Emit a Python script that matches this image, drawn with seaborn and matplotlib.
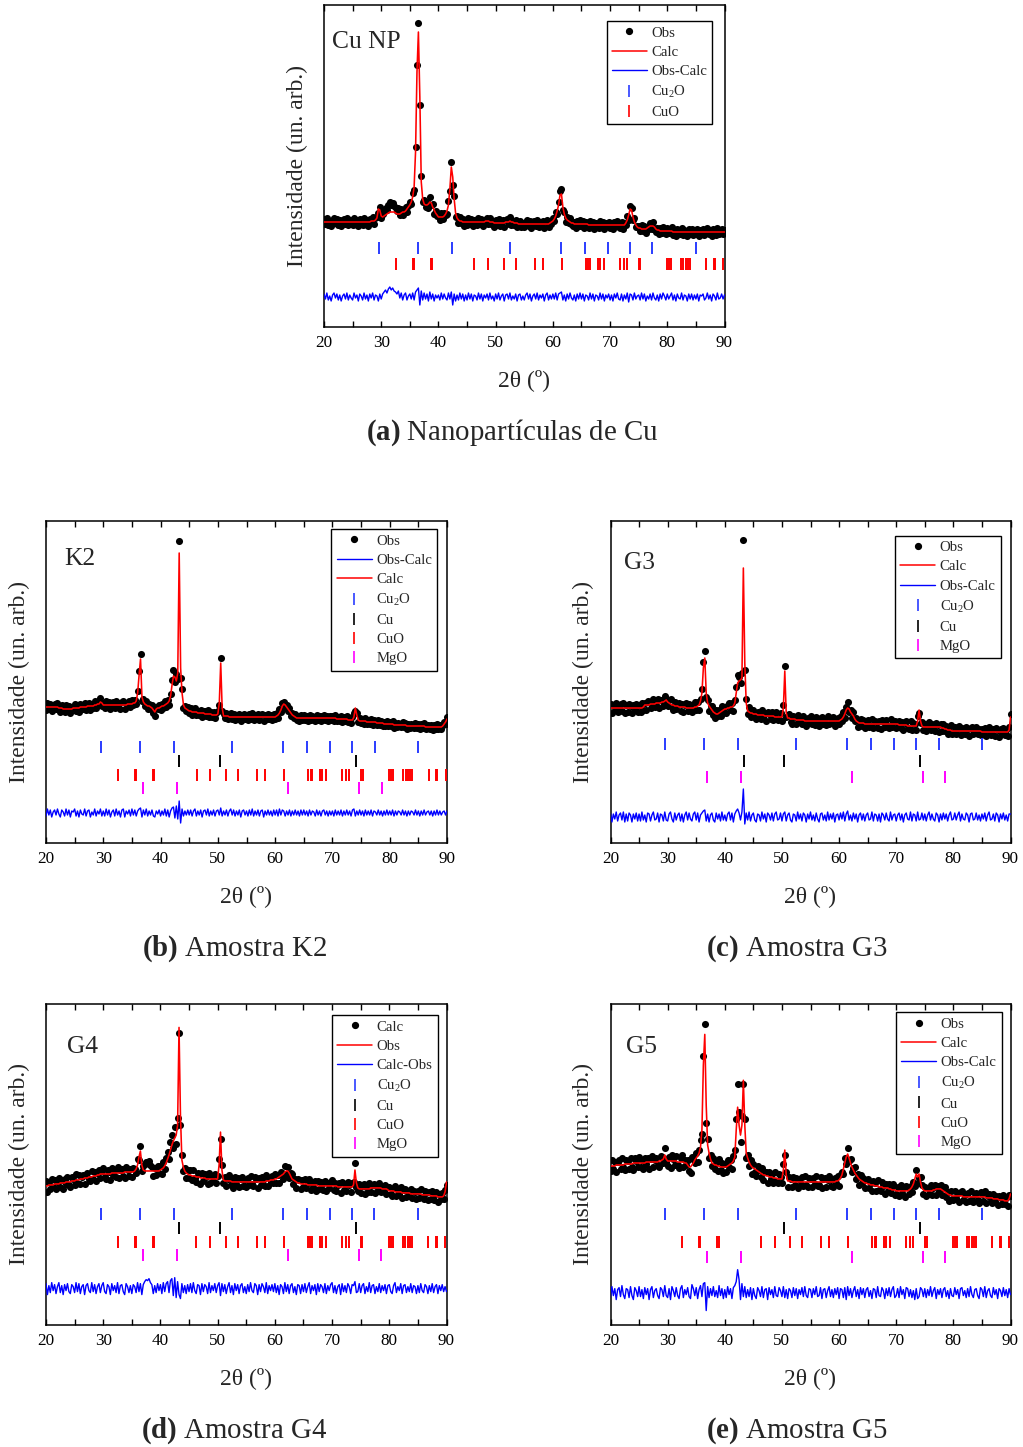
import numpy as np
import matplotlib
matplotlib.use("Agg")
import matplotlib.pyplot as plt
import seaborn as sns
from matplotlib.lines import Line2D
from matplotlib.ticker import MultipleLocator

# ------------------------------------------------------------------ data
TWO_THETA = np.arange(20.0, 90.0001, 0.25)          # 2θ grid (degrees), 281 points

# calculated profiles (arbitrary units), rows of 5 degrees
CALC_A = ([105]*20 +
          [105]*13 + [106, 106, 106, 107, 109, 118, 117] +
          [111, 110, 111, 112, 113, 114, 115, 115, 115, 115, 114, 113, 113, 113, 114, 115, 115, 116, 118, 120] +
          [122, 125, 130, 140, 175, 255, 295, 230, 145, 128, 123, 122, 122, 123, 125, 124, 120, 117, 114, 112] +
          [110, 110, 110, 110, 111, 113, 116, 122, 138, 160, 150, 128, 114, 109, 107, 106, 106, 105, 105, 105] +
          [105]*13 + [106, 106, 106, 105, 105, 105, 104] +
          [104, 104, 104, 104, 104, 104, 104, 105, 105, 105, 106, 105, 105, 104, 104, 104, 103, 103, 103, 103] +
          [103]*18 + [104, 105] +
          [106, 108, 111, 116, 122, 132, 133, 120, 113, 109, 107, 106, 105, 104, 104, 103, 103, 103, 103, 103] +
          [103]*5 + [102]*15 +
          [102]*11 + [104, 107, 112, 118, 117, 110, 105, 102, 100] +
          [99, 99, 98, 98, 98, 98, 99, 100, 101, 101, 101, 100, 98, 97, 97, 96, 96, 96, 96, 96] +
          [96]*4 + [95]*16 +
          [95]*20 + [95])

CALC_B = ([136]*9 + [135]*3 + [134]*7 + [135] +
          [135]*4 + [136]*5 + [137]*5 + [138, 138, 139, 139, 141, 140] +
          [138]*17 + [139]*3 +
          [139, 140, 140, 142, 150, 168, 184, 146, 141, 139, 138, 137, 137, 136, 135, 133, 131, 134, 135, 135] +
          [136, 137, 137, 138, 139, 140, 142, 147, 158, 167, 166, 162, 170, 290, 175, 150, 138, 135, 134, 133] +
          [132, 132, 131, 131, 131, 131, 130, 130, 130, 130, 130, 129, 129, 129, 129, 129, 128, 128, 128, 128] +
          [129, 140, 180, 135, 127, 127, 127, 127, 126] + [126]*11 +
          [126]*20 +
          [126, 127, 128, 130, 133, 137, 139, 138, 136, 134, 132, 130, 128, 127, 126, 125, 125, 125, 125, 125] +
          [125]*20 +
          [125, 125, 125, 124, 124, 124, 124, 124, 124, 124, 124, 123, 123, 123, 123, 126, 135, 128, 123, 122] +
          [122]*4 + [121]*7 + [120]*5 + [119]*4 +
          [119]*3 + [118]*9 + [117]*8 +
          [117]*5 + [116]*12 + [117, 119, 121] + [124])

CALC_C = ([135]*20 +
          [135, 135, 135, 136, 138, 138, 138, 138, 139, 139, 139, 139, 140, 140, 140, 140, 141, 141, 142, 143] +
          [141, 140, 139, 138, 138, 137, 137, 137, 136, 136, 136, 136, 136, 135, 135, 135, 135, 135, 135, 136] +
          [136, 137, 138, 142, 150, 175, 185, 150, 140, 137, 135, 133, 131, 130, 129, 129, 130, 131, 132, 133] +
          [134, 134, 135, 135, 136, 136, 137, 140, 150, 160, 162, 163, 165, 275, 180, 140, 132, 131, 130, 130] +
          [129, 129, 129, 128, 128, 128, 128, 128, 127, 127, 127, 127, 127, 127, 127, 126, 126, 126, 126, 126] +
          [126, 135, 172, 130, 125, 125, 124, 124, 124, 124, 123, 123, 123, 123, 123, 123, 122, 122, 122, 122] +
          [122]*20 +
          [122, 123, 124, 126, 129, 133, 135, 134, 131, 129, 127, 124, 122, 121, 120, 120, 120, 120, 119, 119] +
          [119]*20 +
          [119, 119, 118, 118, 118, 118, 118, 118, 117, 117, 117, 117, 117, 117, 117, 122, 133, 122, 117, 116] +
          [116]*12 + [115, 115, 114, 114, 113, 113, 113, 112] +
          [112]*20 +
          [111]*19 + [113] + [126])

CALC_D = ([139, 139, 140, 140, 140, 140, 141, 141, 141, 141, 142, 142, 142, 142, 143, 143, 143, 143, 144, 144] +
          [144, 145, 145, 145, 146, 146, 146, 147, 147, 147, 148, 148, 148, 149, 149, 149, 150, 150, 151, 151] +
          [151]*6 + [152]*9 + [153]*5 +
          [153, 153, 154, 156, 160, 168, 174, 160, 155, 154] + [154]*10 +
          [155, 156, 157, 159, 162, 166, 170, 175, 180, 184, 187, 190, 200, 298, 210, 165, 158, 154, 152, 151] +
          [150, 150, 149, 149, 149, 148, 148, 148, 147, 147, 147, 147] + [146]*8 +
          [146, 160, 193, 155, 145, 144, 144, 144, 144, 144] + [143]*10 +
          [143]*14 + [144, 144, 144, 145, 145, 145] +
          [146, 146, 147, 148, 149, 150, 151, 153, 154, 154, 152, 149, 146, 145, 144, 143, 142, 142, 141, 141] +
          [141]*3 + [140]*7 + [139]*10 +
          [139]*4 + [138]*11 + [140, 155, 142, 137, 136] +
          [136]*7 + [137]*8 + [136]*4 + [135] +
          [134]*4 + [133]*5 + [132]*6 + [131]*5 +
          [131]*3 + [130]*6 + [129]*5 + [128]*4 + [129, 133] + [143])

CALC_E = ([159]*4 + [160]*6 + [161]*6 + [162]*4 +
          [162]*5 + [163]*9 + [164, 164, 165, 166, 170, 166] +
          [164]*7 + [163]*5 + [162, 162, 160, 158, 158, 160, 162, 165] +
          [167, 169, 172, 178, 195, 260, 291, 220, 180, 172, 166, 162, 161, 160, 160, 159, 159, 158, 158, 158] +
          [158, 158, 159, 160, 161, 162, 164, 168, 195, 218, 200, 190, 200, 245, 200, 172, 167, 163, 160, 158] +
          [157, 156, 155, 154, 153, 152, 151, 150, 150, 149, 149, 148, 148, 148, 147, 147, 147, 146, 146, 146] +
          [146, 155, 175, 150, 144, 144, 144] + [143]*13 +
          [143]*18 + [144, 144] +
          [145, 147, 150, 156, 162, 168, 171, 167, 162, 158, 155, 152, 150, 148, 146, 145, 144, 143, 142, 142] +
          [141, 141, 140, 140, 140, 139, 139, 139, 138, 138, 138, 137, 137, 137, 137, 136, 136, 135, 135, 135] +
          [134]*9 + [135, 136, 138, 141, 146, 151, 148, 151, 143, 137, 135] +
          [134]*6 + [135, 135, 136, 136, 136, 136, 135, 134, 133, 132, 131, 130, 130, 129] +
          [129]*7 + [128]*13 +
          [128, 128, 128, 127, 127, 127, 127, 127, 126, 126, 126, 126, 125, 125, 125, 125, 124, 124, 124, 126] + [131])

# observed minus calculated (same grid)
DIFF_A = [3, -2, 4, -3, 1, -4, 2, 4, -1, 3, -3, 2, -4, 1, 3, -2, 4, -3, 2, -1,
          -3, 4, -1, 2, -4, 3, 1, -3, 4, -2, 2, -4, 3, -1, 4, -3, 2, 1, -4, 3,
          -2, 3, 5, 7, 4, 8, 10, 7, 9, 6, 5, 3, 6, -1, 4, -3, 2, 4, -3, 1,
          3, -2, 4, -3, 5, 7, 9, -8, 6, -3, 4, -2, 3, -4, 5, -2, 3, -4, 2, -1,
          2, -3, 4, -2, 3, -1, -3, 4, -2, 5, -8, 3, -4, 2, -3, 4, -2, 3, -4, 2,
          -3, 4, -2, 3, -4, 2, 1, -3, 4, -2, 3, -4, 2, -1, 3, -3, 4, -2, 1, -4,
          3, -2, 4, -3, 1, 3, -4, 2, 3, -2, 4, -3, 1, -2, 3, -4, 2, 3, -3, 1,
          -3, 2, 4, -2, 3, -4, 1, 3, -2, 4, -3, 2, -1, 3, -4, 2, 4, -3, 2, -2,
          3, -2, 4, -3, 3, 4, 5, -3, 2, -4, 3, -2, 4, -1, -3, 2, -4, 3, -2, 4,
          -2, 3, -4, 2, 1, -3, 4, -2, 3, -4, 2, 1, -3, 4, -2, 3, -4, 2, -1, 3,
          -3, 2, -4, 3, -1, 4, -2, -3, 3, -4, 2, -2, 4, -5, 3, 2, -3, 4, -2, 1,
          2, -3, 4, -2, 3, -4, 1, -2, 3, -3, 4, -1, -3, 2, -4, 3, -2, 4, 1, -3,
          3, -2, 1, 4, -3, 2, -4, 3, -1, -2, 4, -3, 2, 1, -4, 3, -2, 3, -3, 2,
          -2, 3, -4, 2, 1, 3, -3, -1, 4, -2, 2, -4, 3, 1, -3, 4, -2, -1, 3, -2,
          2]

DIFF_B = [-3, 4, -2, 3, -4, 1, 3, -2, 4, -1, -4, 3, 1, -3, 4, -2, 3, -4, 2, 1,
          4, -3, 2, -4, 3, -1, -2, 4, -3, 2, 3, -4, 1, -2, 4, -3, 2, -1, 4, -3,
          2, -3, 4, -2, 3, -4, 1, 3, -3, 4, -2, 2, -4, 3, 4, -4, 2, -1, 3, -3,
          4, -2, 3, -3, 2, 4, 5, -4, 3, -2, 4, -3, 2, -2, 3, -3, -4, 2, -1, 3,
          -3, 2, -2, 4, -3, 3, -4, 2, 5, 6, -5, 7, -6, 12, -10, 4, -3, 2, -2, 3,
          -2, 3, -3, 2, 4, -3, 2, -2, 3, -4, 2, 3, -2, 4, -3, 2, -2, 3, -3, 2,
          3, -2, 5, -3, 2, -2, 3, -3, 2, 4, -2, 3, -3, 2, -2, 3, -4, 2, 3, -2,
          2, -3, 3, -2, 4, -3, 2, -2, 3, -3, 2, 3, -4, 2, -2, 3, -2, 2, -3, 3,
          -2, 3, -3, 4, -2, 3, 2, -3, 2, -2, 3, -3, 2, -2, 3, -2, 2, -3, 3, -2,
          3, -2, 2, -3, 3, -2, 2, 1, -3, 3, -2, 2, -3, 2, 3, -2, 2, -3, 2, -2,
          2, -3, 3, -2, 2, -2, 3, -3, 2, -2, 3, -2, 2, -3, 3, 4, -3, 2, -2, 3,
          -2, 2, -3, 3, -2, 2, -2, 3, -3, 2, 1, -2, 3, -2, 2, -3, 2, -2, 3, -2,
          2, -2, 3, -3, 2, -2, 2, 1, -2, 3, -2, 2, -3, 2, -2, 2, 1, -2, 3, -2,
          2, -3, 2, -2, 3, -2, 1, 2, -2, 2, -3, 2, -2, 3, -2, 2, -2, 1, 2, -2,
          2]

DIFF_C = [4, -5, 3, -2, 5, -4, 2, 4, -3, 5, -5, 3, -4, 4, 2, -5, 3, -2, 4, -4,
          3, -4, 5, -3, 2, -5, 4, 3, -4, 2, 5, -3, -2, 4, -5, 3, 2, -4, 5, -3,
          -4, 3, 5, -2, -5, 4, -3, 2, 4, -4, 3, -5, 2, 5, -3, 4, -2, -4, 3, 5,
          -3, 4, -5, 2, 4, 6, 7, -4, 3, -5, 2, 4, -3, -5, 4, -2, 3, -4, 5, -3,
          2, -4, 3, 5, -3, 4, -5, 3, 6, 8, 4, -3, 5, 28, -7, 4, -3, 5, -4, 2,
          4, -3, -5, 3, 2, -4, 5, -2, 3, -5, 4, 2, -3, 4, -4, 3, 5, -3, -2, 4,
          -4, 3, 5, -4, 2, 4, -3, -5, 3, 2, -4, 5, -2, 3, -4, 4, 2, -5, 3, -2,
          5, -3, 2, -4, 4, -2, -5, 3, 4, -3, 2, -4, 5, -3, 3, -2, 4, -5, 2, 3,
          -3, 4, -2, 5, -4, 3, 6, -3, 2, -4, 4, -2, 3, -5, 2, 4, -3, 3, -4, 2,
          4, -3, -2, 5, -4, 3, 2, -4, 3, -5, 4, 2, -3, 4, -2, -4, 5, -3, 2, 3,
          -4, 2, 4, -3, 3, -5, 2, 4, -2, -3, 5, -4, 3, 2, -4, 5, -3, -2, 4, -3,
          3, -4, 2, 5, -3, 3, -2, -4, 4, 2, -5, 3, -3, 4, -2, 3, -4, 2, 5, -3,
          -2, 4, -3, 2, 5, -4, 3, -2, -3, 4, 2, -5, 3, 4, -3, -2, 4, -3, 2, -4,
          3, -2, 4, -4, 2, 5, -3, -2, 3, -4, 4, 2, -5, 3, -2, 4, -3, 2, -4, 3,
          3]

DIFF_D = [5, -6, 3, -4, 6, -2, 4, -5, 2, 6, -4, 3, -6, 4, -2, 5, -3, -5, 4, 2,
          -4, 6, -3, 5, -5, 2, 4, -6, 3, 5, -2, -4, 6, -3, 4, -5, 2, 5, -4, 3,
          6, -3, -5, 4, 2, -6, 5, -2, 3, -4, 6, -5, 3, 4, -3, -6, 5, 2, -4, 3,
          -5, 4, 2, -4, 6, -3, 5, -6, 4, 7, 9, 8, 10, 6, 4, -5, 3, -4, 5, -2,
          4, -5, 6, -3, 5, 7, -4, 8, 10, -7, 11, -9, 7, -6, -10, 5, -4, 3, -5, 4,
          -3, 5, -4, 6, -2, -5, 4, 3, -6, 5, -3, 4, 2, -5, 6, -4, 3, -2, 5, -4,
          3, 6, -7, 5, -3, 4, -5, 2, 6, -4, 3, -6, 5, -2, 4, -5, 3, 5, -4, 2,
          -5, 4, -3, 6, -2, -4, 5, 3, -6, 4, -3, 5, 2, -4, 6, -5, 3, -2, 4, -3,
          5, -4, 3, -6, 4, 2, -5, 6, -3, 4, -5, 3, 5, -4, 2, -6, 4, 3, -5, 4,
          -3, 5, -4, 2, 6, -5, 3, -2, 4, -6, 5, -3, 4, 2, -4, 5, -5, 3, -2, 4,
          6, -4, 3, -5, 2, 4, -6, 5, -3, 3, -4, 5, 2, -5, 4, 3, 7, -4, -3, 5,
          -4, 3, 5, -5, 2, -3, 6, -4, 3, 4, -5, 2, -3, 5, -4, 3, -2, 4, -5, 3,
          4, -3, -5, 3, 6, -4, 2, -2, 5, -5, 3, 4, -4, 2, -3, 5, -4, 3, 2, -5,
          3, -4, 5, -2, -4, 4, 2, -5, 3, -3, 5, -4, 2, 4, -5, 3, -2, 4, -3, 2,
          -3]

DIFF_E = [-5, 6, -3, 4, -7, 3, 5, -4, 7, -2, -6, 4, 3, -5, 6, -3, -7, 5, 2, -4,
          6, -4, 3, -6, 5, -2, 4, -7, 3, 6, -5, 2, 4, -3, -6, 5, 3, -4, 7, -3,
          -5, 4, -7, 6, 2, -4, 5, -3, -6, 4, 7, -5, 3, -2, 5, -4, -6, 8, 4, -3,
          5, -6, 3, 7, -4, 9, 10, -18, 6, -5, 4, -3, 6, -4, 2, -5, 7, -3, 4, -6,
          3, -5, 6, -2, 4, -6, 5, 7, 11, 23, 13, -7, 9, -4, 6, -5, 3, -4, 5, -7,
          4, -3, -6, 5, 2, -4, 6, -5, 3, 4, -7, 5, -2, 3, -5, 6, -3, -4, 5, 2,
          -4, 6, -5, 3, -6, 4, 2, -5, 5, -3, 4, -6, 3, -2, 5, -4, 6, -3, -5, 4,
          3, -5, 4, -2, 6, -4, -3, 5, -6, 3, 4, -5, 2, 6, -4, 3, -5, 4, -2, 5,
          -6, 4, 3, -5, 5, -7, 6, -3, 4, -5, 2, 6, -4, 3, -6, 5, -2, 4, -5, 3,
          5, -4, 2, -6, 4, 3, -5, 6, -3, -4, 5, 2, -6, 4, -3, 5, -4, 3, 6, -5,
          -3, 4, -5, 6, -2, 3, -6, 5, 4, -4, 3, -5, 2, -7, 4, -6, -4, 5, 3, -4,
          4, -5, 3, -3, 6, -4, 2, 5, -6, 3, -2, 4, -5, 3, 5, -4, 2, -6, 4, -3,
          -4, 5, -2, 3, -6, 4, 5, -3, 2, -5, 4, -4, 6, -2, -5, 3, 4, -3, -6, 5,
          3, -4, 6, -5, 2, 4, -3, -5, 5, -2, 3, -6, 4, 2, -4, 5, -3, 3, -5, 4,
          -2]

# Bragg reflection positions (2θ, degrees)
CU2O_POS = [29.6, 36.4, 42.3, 52.5, 61.4, 65.6, 69.6, 73.5, 77.4, 85.0]
CU_POS = [43.3, 50.4, 74.1]
CU_POS_G5 = [50.4, 74.1]
CUO_POS = [32.5, 35.5, 35.7, 38.7, 38.9, 46.3, 48.7, 51.4, 53.5, 56.8, 58.3, 61.6,
           65.8, 66.2, 66.5, 67.9, 68.2, 68.9, 71.7, 72.4, 72.9, 75.0, 75.3,
           79.9, 80.3, 80.6, 82.4, 82.8, 83.2, 83.6, 83.9, 86.8, 88.1, 88.3, 89.8]
MGO_POS = [36.9, 42.9, 62.3, 74.7, 78.6]

PANEL_NAMES = ["Cu NP", "K2", "G3", "G4", "G5"]
CAPTIONS = [r"$\mathbf{(a)}$ Nanopartículas de Cu", r"$\mathbf{(b)}$ Amostra K2",
            r"$\mathbf{(c)}$ Amostra G3", r"$\mathbf{(d)}$ Amostra G4",
            r"$\mathbf{(e)}$ Amostra G5"]
X_TICKS = [20, 30, 40, 50, 60, 70, 80, 90]

for arr in (CALC_A, CALC_B, CALC_C, CALC_D, CALC_E, DIFF_A, DIFF_B, DIFF_C, DIFF_D, DIFF_E):
    assert len(arr) == len(TWO_THETA), len(arr)

# ------------------------------------------------------------------ style
sns.set_theme(style="white")
plt.rcParams["font.family"] = ["Liberation Serif", "DejaVu Serif"]
plt.rcParams["mathtext.fontset"] = "custom"
plt.rcParams["mathtext.rm"] = "Liberation Serif"
plt.rcParams["mathtext.it"] = "Liberation Serif:italic"
plt.rcParams["mathtext.bf"] = "Liberation Serif:bold"

BLUE = "#0000ff"
TICKBLUE = "#2a3cff"
RED = "#ff0000"
MAG = "#ff00ff"
PHASE_COL = {"Cu2O": TICKBLUE, "Cu": "black", "CuO": RED, "MgO": MAG}
PHASE_LBL = {"Cu2O": "Cu$_2$O", "Cu": "Cu", "CuO": "CuO", "MgO": "MgO"}

W, H = 1023, 1447
fig = plt.figure(figsize=(W / 100, H / 100), dpi=100)
fig.patch.set_facecolor("white")


def rect(l, r, t, b):
    return [l / W, 1 - b / H, (r - l) / W, (b - t) / H]


panels = [
    dict(rect=rect(324, 724.5, 5, 327), calc=CALC_A, diff=DIFF_A, off=30,
         phases=[("Cu2O", CU2O_POS, 79.5), ("CuO", CUO_POS, 63.5)],
         legend=[("obs", "Obs"), ("calc", "Calc"), ("diff", "Obs-Calc"), ("Cu2O", None), ("CuO", None)],
         leg_anchor=(0.97, 0.95), name_xy=(0.02, 0.885),
         xlab=(524, 380), cap=(512, 433)),
    dict(rect=rect(46, 447, 521, 843), calc=CALC_B, diff=DIFF_B, off=30,
         phases=[("Cu2O", CU2O_POS, 96), ("Cu", CU_POS, 82), ("CuO", CUO_POS, 68), ("MgO", MGO_POS, 54.5)],
         legend=[("obs", "Obs"), ("diff", "Obs-Calc"), ("calc", "Calc"), ("Cu2O", None), ("Cu", None), ("CuO", None), ("MgO", None)],
         leg_anchor=(0.976, 0.975), name_xy=(0.045, 0.882),
         xlab=(246, 896), cap=(234.5, 949)),
    dict(rect=rect(610.5, 1010.5, 521, 843), calc=CALC_C, diff=DIFF_C, off=26,
         phases=[("Cu2O", CU2O_POS, 99), ("Cu", CU_POS, 81.5), ("MgO", MGO_POS, 65.5)],
         legend=[("obs", "Obs"), ("calc", "Calc"), ("diff", "Obs-Calc"), ("Cu2O", None), ("Cu", None), ("MgO", None)],
         leg_anchor=(0.976, 0.954), name_xy=(0.034, 0.87),
         xlab=(810, 896), cap=(797.5, 949)),
    dict(rect=rect(46, 446.5, 1003.5, 1324.5), calc=CALC_D, diff=DIFF_D, off=36,
         phases=[("Cu2O", CU2O_POS, 111), ("Cu", CU_POS, 97), ("CuO", CUO_POS, 83), ("MgO", MGO_POS, 70)],
         legend=[("obs", "Calc"), ("calc", "Obs"), ("diff", "Calc-Obs"), ("Cu2O", None), ("Cu", None), ("CuO", None), ("MgO", None)],
         leg_anchor=(0.978, 0.964), name_xy=(0.052, 0.865),
         xlab=(246, 1378), cap=(234.5, 1431)),
    dict(rect=rect(610.5, 1010.5, 1003.5, 1324.5), calc=CALC_E, diff=DIFF_E, off=32,
         phases=[("Cu2O", CU2O_POS, 111), ("Cu", CU_POS_G5, 96.6), ("CuO", CUO_POS, 82.5), ("MgO", MGO_POS, 68)],
         legend=[("obs", "Obs"), ("calc", "Calc"), ("diff", "Obs-Calc"), ("Cu2O", None), ("Cu", None), ("CuO", None), ("MgO", None)],
         leg_anchor=(0.978, 0.972), name_xy=(0.039, 0.865),
         xlab=(810, 1378), cap=(797.5, 1431)),
]

for p, name, caption in zip(panels, PANEL_NAMES, CAPTIONS):
    ax = fig.add_axes(p["rect"])
    calc = np.asarray(p["calc"], float)
    diff = np.asarray(p["diff"], float)
    obs = calc + diff

    sns.scatterplot(x=TWO_THETA, y=obs, ax=ax, color="black", s=26, linewidth=0,
                    legend=False, zorder=2)
    sns.lineplot(x=TWO_THETA, y=calc, ax=ax, color=RED, linewidth=1.15, sort=False,
                 estimator=None, legend=False, zorder=3)
    sns.lineplot(x=TWO_THETA, y=diff + p["off"], ax=ax, color=BLUE, linewidth=1.0,
                 sort=False, estimator=None, legend=False, zorder=3)
    for key, pos, yrow in p["phases"]:
        sns.scatterplot(x=pos, y=[yrow] * len(pos), ax=ax, marker="|", s=70,
                        color=PHASE_COL[key], linewidth=1.4, legend=False, zorder=3)

    ax.set_xlim(20, 90)
    ax.set_ylim(0, 322)
    ax.xaxis.set_major_locator(MultipleLocator(10))
    ax.xaxis.set_minor_locator(MultipleLocator(5))
    ax.set_xticks(X_TICKS)
    ax.set_xticklabels([str(t) for t in X_TICKS])
    ax.set_yticks([])
    ax.tick_params(axis="x", which="both", direction="in", top=True, bottom=True,
                   length=4, width=1.0, labelsize=12.3, pad=6, colors="black")
    for s in ax.spines.values():
        s.set_color("black")
        s.set_linewidth(1.1)
    ax.set_facecolor("white")

    ax.set_xlabel("")
    ax.set_ylabel("Intensidade (un. arb.)", fontsize=17)
    ax.yaxis.set_label_coords(-0.067, 0.5)
    ax.yaxis.label.set_verticalalignment("center")

    ax.text(p["name_xy"][0], p["name_xy"][1], name, transform=ax.transAxes,
            fontsize=18.4, ha="left", va="center")

    handles, labels = [], []
    for key, lab in p["legend"]:
        if key == "obs":
            h = Line2D([], [], ls="none", marker="o", ms=4.2, color="black")
        elif key == "calc":
            h = Line2D([], [], color=RED, lw=1.1)
        elif key == "diff":
            h = Line2D([], [], color=BLUE, lw=1.0)
        else:
            h = Line2D([], [], ls="none", marker="|", ms=8.5, mew=1.2, color=PHASE_COL[key])
            lab = PHASE_LBL[key]
        handles.append(h)
        labels.append(lab)
    leg = ax.legend(handles, labels, loc="upper right", bbox_to_anchor=p["leg_anchor"],
                    bbox_transform=ax.transAxes, borderaxespad=0, frameon=True,
                    fancybox=False, framealpha=1, edgecolor="black",
                    prop={"family": "Liberation Serif", "size": 10.6},
                    handlelength=2.4, handletextpad=0.3, borderpad=0.35, labelspacing=0.4)
    leg.get_frame().set_linewidth(1.0)

    fig.text(p["xlab"][0] / W, 1 - p["xlab"][1] / H, "2θ (º)", fontsize=17,
             ha="center", va="center")
    fig.text(p["cap"][0] / W, 1 - p["cap"][1] / H, caption, fontsize=20.8,
             ha="center", va="center")

fig.savefig("out.png", dpi=100, facecolor="white")
